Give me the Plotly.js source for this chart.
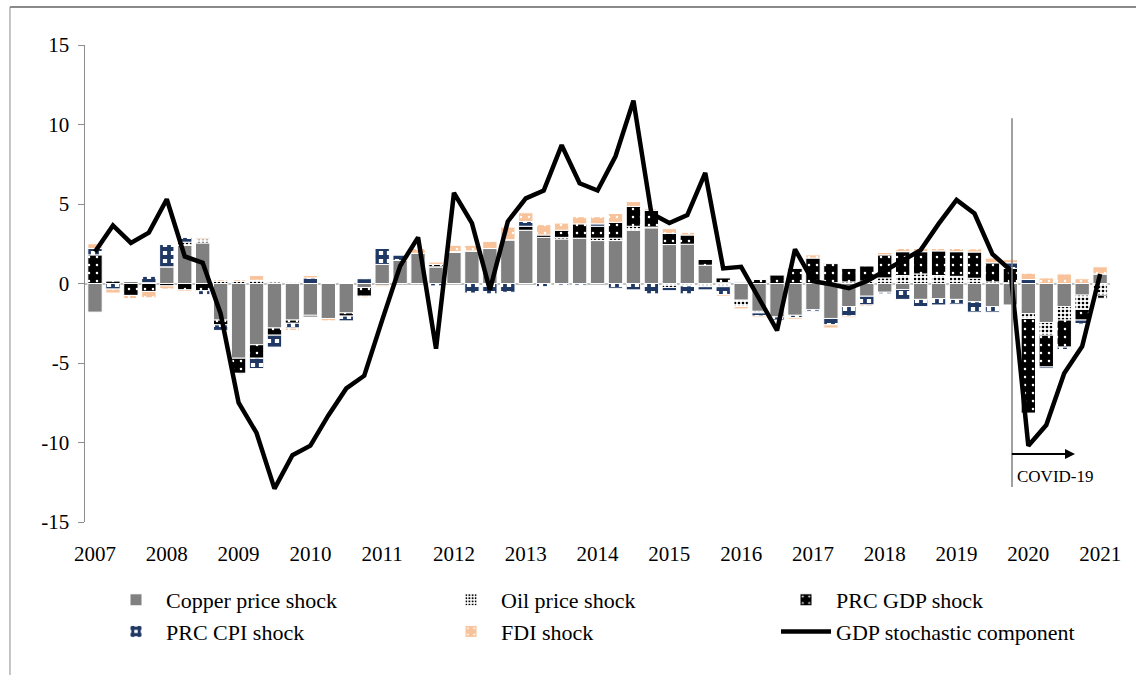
<!DOCTYPE html>
<html>
<head>
<meta charset="utf-8">
<script src="https://cdn.plot.ly/plotly-3.0.1.min.js"></script>
<style>
  html, body { margin: 0; padding: 0; background: #ffffff; }
  #chart { width: 1136px; height: 675px; }
</style>
</head>
<body>
<div id="chart"></div>
<script>
// Quarterly categories 2007Q1 .. 2021Q1
const quarters = [
  '2007Q1','2007Q2','2007Q3','2007Q4','2008Q1','2008Q2','2008Q3','2008Q4',
  '2009Q1','2009Q2','2009Q3','2009Q4','2010Q1','2010Q2','2010Q3','2010Q4',
  '2011Q1','2011Q2','2011Q3','2011Q4','2012Q1','2012Q2','2012Q3','2012Q4',
  '2013Q1','2013Q2','2013Q3','2013Q4','2014Q1','2014Q2','2014Q3','2014Q4',
  '2015Q1','2015Q2','2015Q3','2015Q4','2016Q1','2016Q2','2016Q3','2016Q4',
  '2017Q1','2017Q2','2017Q3','2017Q4','2018Q1','2018Q2','2018Q3','2018Q4',
  '2019Q1','2019Q2','2019Q3','2019Q4','2020Q1','2020Q2','2020Q3','2020Q4',
  '2021Q1'
];
const yearTickVals = ['2007Q1','2008Q1','2009Q1','2010Q1','2011Q1','2012Q1','2013Q1',
  '2014Q1','2015Q1','2016Q1','2017Q1','2018Q1','2019Q1','2020Q1','2021Q1'];
const yearTickText = ['2007','2008','2009','2010','2011','2012','2013',
  '2014','2015','2016','2017','2018','2019','2020','2021'];
const yTickVals = [-15, -10, -5, 0, 5, 10, 15];
const yTickText = ['-15', '-10', '-5', '0', '5', '10', '15'];

const copperShock = [
  -1.8, 0.0, 0.15, 0.05, 1.05, 2.4, 2.55, -2.3,
  -4.7, -3.85, -2.8, -2.3, -2.0, -2.2, -1.85, -0.25,
  1.2, 1.45, 1.9, 1.05, 1.95, 2.05, 2.2, 2.75,
  3.35, 2.9, 2.8, 2.85, 2.7, 2.7, 3.35, 3.5,
  2.45, 2.47, 1.15, 0.05, -1.05, -1.75, -2.1, -2.0,
  -1.65, -2.2, -1.45, -0.8, -0.55, -0.38, -1.0, -0.95,
  -1.0, -1.15, -1.45, -1.35, -1.9, -2.45, -1.45, -0.73,
  0.6
];
const oilShock = [
  0.0, 0.0, 0.0, 0.0, 0.0, 0.2, 0.25, 0.15,
  0.15, 0.2, 0.1, 0.05, 0.0, 0.05, 0.0, 0.0,
  0.0, 0.0, 0.0, 0.0, 0.0, 0.0, 0.0, 0.0,
  0.0, 0.0, 0.1, 0.0, 0.15, 0.15, 0.25, 0.05,
  -0.25, -0.15, -0.2, -0.2, -0.4, -0.1, 0.0, 0.0,
  0.0, 0.05, 0.1, 0.15, 0.35, 0.5, 0.6, 0.5,
  0.45, 0.33, 0.1, 0.05, -0.3, -0.8, -0.85, -0.9,
  -0.73
];
const prcGdpShock = [
  1.8, 0.15, -0.75, -0.5, -0.15, -0.4, -0.45, -0.3,
  -0.95, -0.85, -0.45, -0.2, -0.1, 0.0, -0.2, -0.55,
  -0.1, 0.0, 0.0, 0.15, 0.0, 0.0, 0.0, 0.0,
  0.25, 0.15, 0.45, 0.9, 0.75, 1.0, 1.25, 1.05,
  0.7, 0.58, 0.36, 0.3, 0.05, 0.25, 0.55, 0.95,
  1.6, 1.2, 0.85, 0.95, 1.45, 1.5, 1.4, 1.55,
  1.55, 1.65, 1.2, 0.9, -5.95, -2.0, -1.7, -0.67,
  -0.2
];
const prcCpiShock = [
  0.4, -0.35, 0.0, 0.4, 1.4, 0.3, -0.25, -0.35,
  -0.05, -0.65, -0.75, -0.3, 0.35, 0.0, -0.3, 0.3,
  1.0, 0.35, 0.0, -0.15, 0.05, -0.6, -0.65, -0.55,
  0.3, -0.2, -0.1, -0.1, 0.15, -0.3, -0.4, -0.65,
  -0.2, -0.5, -0.2, -0.5, 0.05, -0.2, -0.2, -0.15,
  -0.1, -0.4, -0.6, -0.55, -0.1, -0.62, -0.45, -0.4,
  -0.3, -0.65, -0.35, 0.35, 0.25, -0.1, -0.15, -0.25,
  0.0
];
const fdiShock = [
  0.3, -0.25, -0.2, -0.4, -0.2, -0.1, 0.1, 0.1,
  0.1, 0.3, 0.05, -0.15, 0.15, -0.15, 0.0, -0.1,
  -0.1, 0.0, 0.3, 0.15, 0.4, 0.35, 0.45, 0.8,
  0.55, 0.65, 0.45, 0.45, 0.45, 0.55, 0.3, 0.1,
  0.3, 0.17, 0.05, -0.1, -0.15, -0.1, 0.0, -0.1,
  0.2, -0.2, -0.1, -0.1, 0.15, 0.2, 0.2, 0.15,
  0.2, 0.2, 0.3, 0.2, 0.4, 0.35, 0.6, 0.3,
  0.45
];
const gdpStochastic = [
  2.0, 3.65, 2.55, 3.2, 5.3, 1.7, 1.3, -1.9,
  -7.5, -9.4, -12.9, -10.8, -10.2, -8.3, -6.6, -5.8,
  -2.3, 1.1, 2.9, -4.1, 5.7, 3.8, -0.4, 3.9,
  5.35, 5.85, 8.7, 6.3, 5.85, 8.0, 11.5, 4.4,
  3.8, 4.3, 6.95, 0.95, 1.05, -0.9, -2.95, 2.15,
  0.15, -0.05, -0.3, 0.15, 0.8, 1.45, 2.1, 3.75,
  5.25, 4.4, 1.85, 0.85, -10.2, -8.9, -5.65, -3.95,
  0.6
];

const seriesNames = ['Copper price shock','Oil price shock','PRC GDP shock',
  'PRC CPI shock','FDI shock','GDP stochastic component'];

const serif = 'Liberation Serif, Times New Roman, serif';
const barLine = { color: '#ffffff', width: 1 };

const traces = [
  { type: 'bar', name: seriesNames[0], x: quarters, y: copperShock,
    marker: { color: '#808080', line: barLine } },
  { type: 'bar', name: seriesNames[1], x: quarters, y: oilShock,
    marker: { color: '#ffffff', line: barLine,
      pattern: { shape: '.', bgcolor: '#ffffff', fgcolor: '#000000', size: 4, solidity: 0.35, fillmode: 'replace' } } },
  { type: 'bar', name: seriesNames[2], x: quarters, y: prcGdpShock,
    marker: { color: '#000000', line: barLine,
      pattern: { shape: '.', bgcolor: '#000000', fgcolor: '#ffffff', size: 8, solidity: 0.08, fillmode: 'replace' } } },
  { type: 'bar', name: seriesNames[3], x: quarters, y: prcCpiShock,
    marker: { color: '#1f3864', line: barLine,
      pattern: { shape: '+', bgcolor: '#ffffff', fgcolor: '#1f3864', size: 8, solidity: 0.72, fillmode: 'replace' } } },
  { type: 'bar', name: seriesNames[4], x: quarters, y: fdiShock,
    marker: { color: '#f8c39a', line: barLine,
      pattern: { shape: '.', bgcolor: '#f8c39a', fgcolor: '#ffffff', size: 8, solidity: 0.08, fillmode: 'replace' } } },
  { type: 'scatter', mode: 'lines', name: seriesNames[5], x: quarters, y: gdpStochastic,
    line: { color: '#000000', width: 4.5 } }
];

const layout = {
  width: 1136, height: 675,
  paper_bgcolor: '#ffffff', plot_bgcolor: '#ffffff',
  margin: { l: 85, r: 26, t: 45, b: 153, autoexpand: false },
  barmode: 'relative', bargap: 0.2,
  font: { family: serif, size: 21, color: '#000000' },
  showlegend: true,
  legend: {
    orientation: 'h', x: 0.0205, xanchor: 'left', y: -0.1195, yanchor: 'top',
    entrywidth: 270, entrywidthmode: 'pixels', itemwidth: 50,
    font: { family: serif, size: 22, color: '#000000' },
    tracegroupgap: 0, traceorder: 'normal'
  },
  xaxis: {
    type: 'category', categoryorder: 'array', categoryarray: quarters,
    range: [-0.557, 56.55],
    tickmode: 'array', tickvals: yearTickVals, ticktext: yearTickText,
    ticks: 'outside', ticklen: 13, tickcolor: 'rgba(0,0,0,0)',
    showgrid: false, zeroline: false, showline: false,
    tickfont: { family: serif, size: 21, color: '#000000' }
  },
  yaxis: {
    range: [-15, 15], tickmode: 'array', tickvals: yTickVals, ticktext: yTickText,
    ticks: 'outside', ticklen: 6, tickcolor: '#8c8c8c', tickwidth: 1,
    showline: true, linecolor: '#8c8c8c', linewidth: 1.5,
    showgrid: false, zeroline: true, zerolinecolor: '#bfbfbf', zerolinewidth: 2,
    tickfont: { family: serif, size: 21, color: '#000000' },
    ticklabelstandoff: 4
  },
  shapes: [
    { type: 'line', xref: 'x', yref: 'y', x0: 51.09, x1: 51.09, y0: 10.4, y1: -12.8,
      line: { color: '#808080', width: 1.5 } },
    { type: 'line', xref: 'paper', yref: 'paper', x0: -0.0732, x1: 1.05, y0: 1.0797, y1: 1.0797,
      line: { color: '#8a8a8a', width: 2 } },
    { type: 'line', xref: 'paper', yref: 'paper', x0: -0.0732, x1: -0.0732, y0: 1.0797, y1: -0.35,
      line: { color: '#8a8a8a', width: 1 } }
  ],
  annotations: [
    { xref: 'x', yref: 'y', axref: 'x', ayref: 'y',
      x: 54.6, y: -10.72, ax: 51.0, ay: -10.72, text: '',
      showarrow: true, arrowhead: 2, arrowsize: 1, arrowwidth: 2, arrowcolor: '#000000' },
    { xref: 'x', yref: 'y', x: 53.5, y: -12.15, text: 'COVID-19', showarrow: false,
      font: { family: serif, size: 17, color: '#000000' } }
  ]
};

Plotly.newPlot('chart', traces, layout, { displayModeBar: false, staticPlot: true });
</script>
</body>
</html>
